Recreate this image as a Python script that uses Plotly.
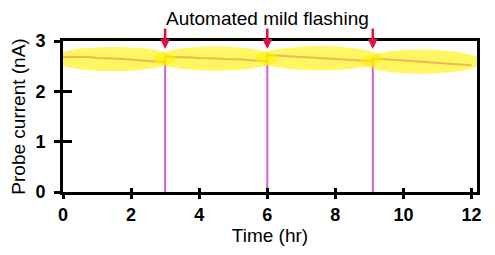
import plotly.graph_objects as go

# ---- data ----
flash_times = [3.0, 6.0, 9.1]

seg1_t = [0, 0.25, 0.5, 0.75, 1.0, 1.25, 1.5, 1.75, 2.0, 2.25, 2.5, 2.75, 3.0]
seg1_v = [2.68, 2.68, 2.67, 2.68, 2.66, 2.66, 2.65, 2.64, 2.63, 2.62, 2.61, 2.59, 2.58]

seg2_t = [3.0, 3.25, 3.5, 3.75, 4.0, 4.25, 4.5, 4.75, 5.0, 5.25, 5.5, 5.75, 6.0]
seg2_v = [2.69, 2.68, 2.68, 2.67, 2.66, 2.66, 2.65, 2.64, 2.64, 2.63, 2.62, 2.61, 2.60]

seg3_t = [6.0, 6.25, 6.5, 6.75, 7.0, 7.25, 7.5, 7.75, 8.0, 8.25, 8.5, 8.75, 9.0, 9.1]
seg3_v = [2.72, 2.71, 2.70, 2.70, 2.68, 2.67, 2.66, 2.65, 2.64, 2.63, 2.62, 2.61, 2.60, 2.60]

seg4_t = [9.1, 9.35, 9.6, 9.85, 10.1, 10.35, 10.6, 10.85, 11.1, 11.35, 11.6, 11.85, 12.0]
seg4_v = [2.65, 2.64, 2.63, 2.62, 2.61, 2.60, 2.59, 2.58, 2.57, 2.56, 2.55, 2.54, 2.52]

segments_t = [seg1_t, seg2_t, seg3_t, seg4_t]
segments_v = [seg1_v, seg2_v, seg3_v, seg4_v]

x_ticks = [0, 2, 4, 6, 8, 10, 12]
y_ticks = [0, 1, 2, 3]

annotation_text = "Automated mild flashing"
x_title = "Time (hr)"
y_title = "Probe current (nA)"

# ---- build trace: current drops to 0 during each flash ----
xs, ys = [], []
for i, (t, v) in enumerate(zip(segments_t, segments_v)):
    if i > 0:
        xs += [t[0], t[0]]
        ys += [0, 0]
    xs += t
    ys += v

PINK = "#d45fcc"
RED = "#dc143c"
FONT = "Arial, Liberation Sans, sans-serif"

fig = go.Figure()
fig.add_trace(go.Scatter(x=xs, y=ys, mode="lines",
                         line=dict(color=PINK, width=2), showlegend=False,
                         hoverinfo="skip", cliponaxis=False))
# invisible trace for the overlay (inside-tick) axes
fig.add_trace(go.Scatter(x=[0], y=[0], xaxis="x2", yaxis="y2", mode="markers",
                         marker=dict(opacity=0), showlegend=False, hoverinfo="skip"))

# yellow highlight ellipses around each segment
for i, (t, v) in enumerate(zip(segments_t, segments_v)):
    yc = sum(v) / len(v)
    fig.add_shape(type="circle", xref="x", yref="y",
                  x0=t[0] - 0.35, x1=t[-1] + 0.3, y0=yc - 0.24, y1=yc + 0.24,
                  fillcolor="rgba(255,240,0,0.62)", line=dict(width=0),
                  layer="above")

# red arrows at flash times
for ft in flash_times:
    fig.add_annotation(x=ft, y=2.84, xref="x", yref="y", ax=0, ay=-22,
                       showarrow=True, arrowhead=2, arrowsize=0.8,
                       arrowwidth=2.5, arrowcolor=RED, text="")

fig.add_annotation(x=6.0, y=1.152, xref="x", yref="paper", text=annotation_text,
                   showarrow=False, font=dict(family=FONT, size=19, color="black"),
                   yanchor="middle")

x_range = [0, 12.16]
y_range = [0, 3]

fig.update_layout(
    width=495, height=255,
    margin=dict(l=63, r=18, t=41, b=63),
    plot_bgcolor="white", paper_bgcolor="white",
    xaxis=dict(range=x_range, tickvals=x_ticks, ticks="outside", ticklen=4,
               tickwidth=2.5, tickcolor="black", showline=True, linewidth=3,
               linecolor="black", mirror=True, showgrid=False, zeroline=False,
               tickfont=dict(family=FONT, size=18, color="black", weight="bold"),
               title=dict(text=x_title, font=dict(family=FONT, size=19, color="black"),
                          standoff=2)),
    yaxis=dict(range=y_range, tickvals=y_ticks, ticks="outside", ticklen=6,
               tickwidth=2.5, tickcolor="black", showline=True, linewidth=3,
               linecolor="black", mirror=True, showgrid=False, zeroline=False,
               ticklabelstandoff=5,
               tickfont=dict(family=FONT, size=18, color="black", weight="bold"),
               title=dict(text=y_title, font=dict(family=FONT, size=19, color="black"),
                          standoff=5)),
    xaxis2=dict(range=x_range, overlaying="x", tickvals=x_ticks, ticks="inside",
                ticklen=4, tickwidth=2.5, tickcolor="black", showticklabels=False,
                showgrid=False, zeroline=False, showline=False, side="bottom"),
    yaxis2=dict(range=y_range, overlaying="y", tickvals=y_ticks, ticks="inside",
                ticklen=9, tickwidth=2.5, tickcolor="black", showticklabels=False,
                showgrid=False, zeroline=False, showline=False, side="left"),
)

fig.write_html("out.html")
